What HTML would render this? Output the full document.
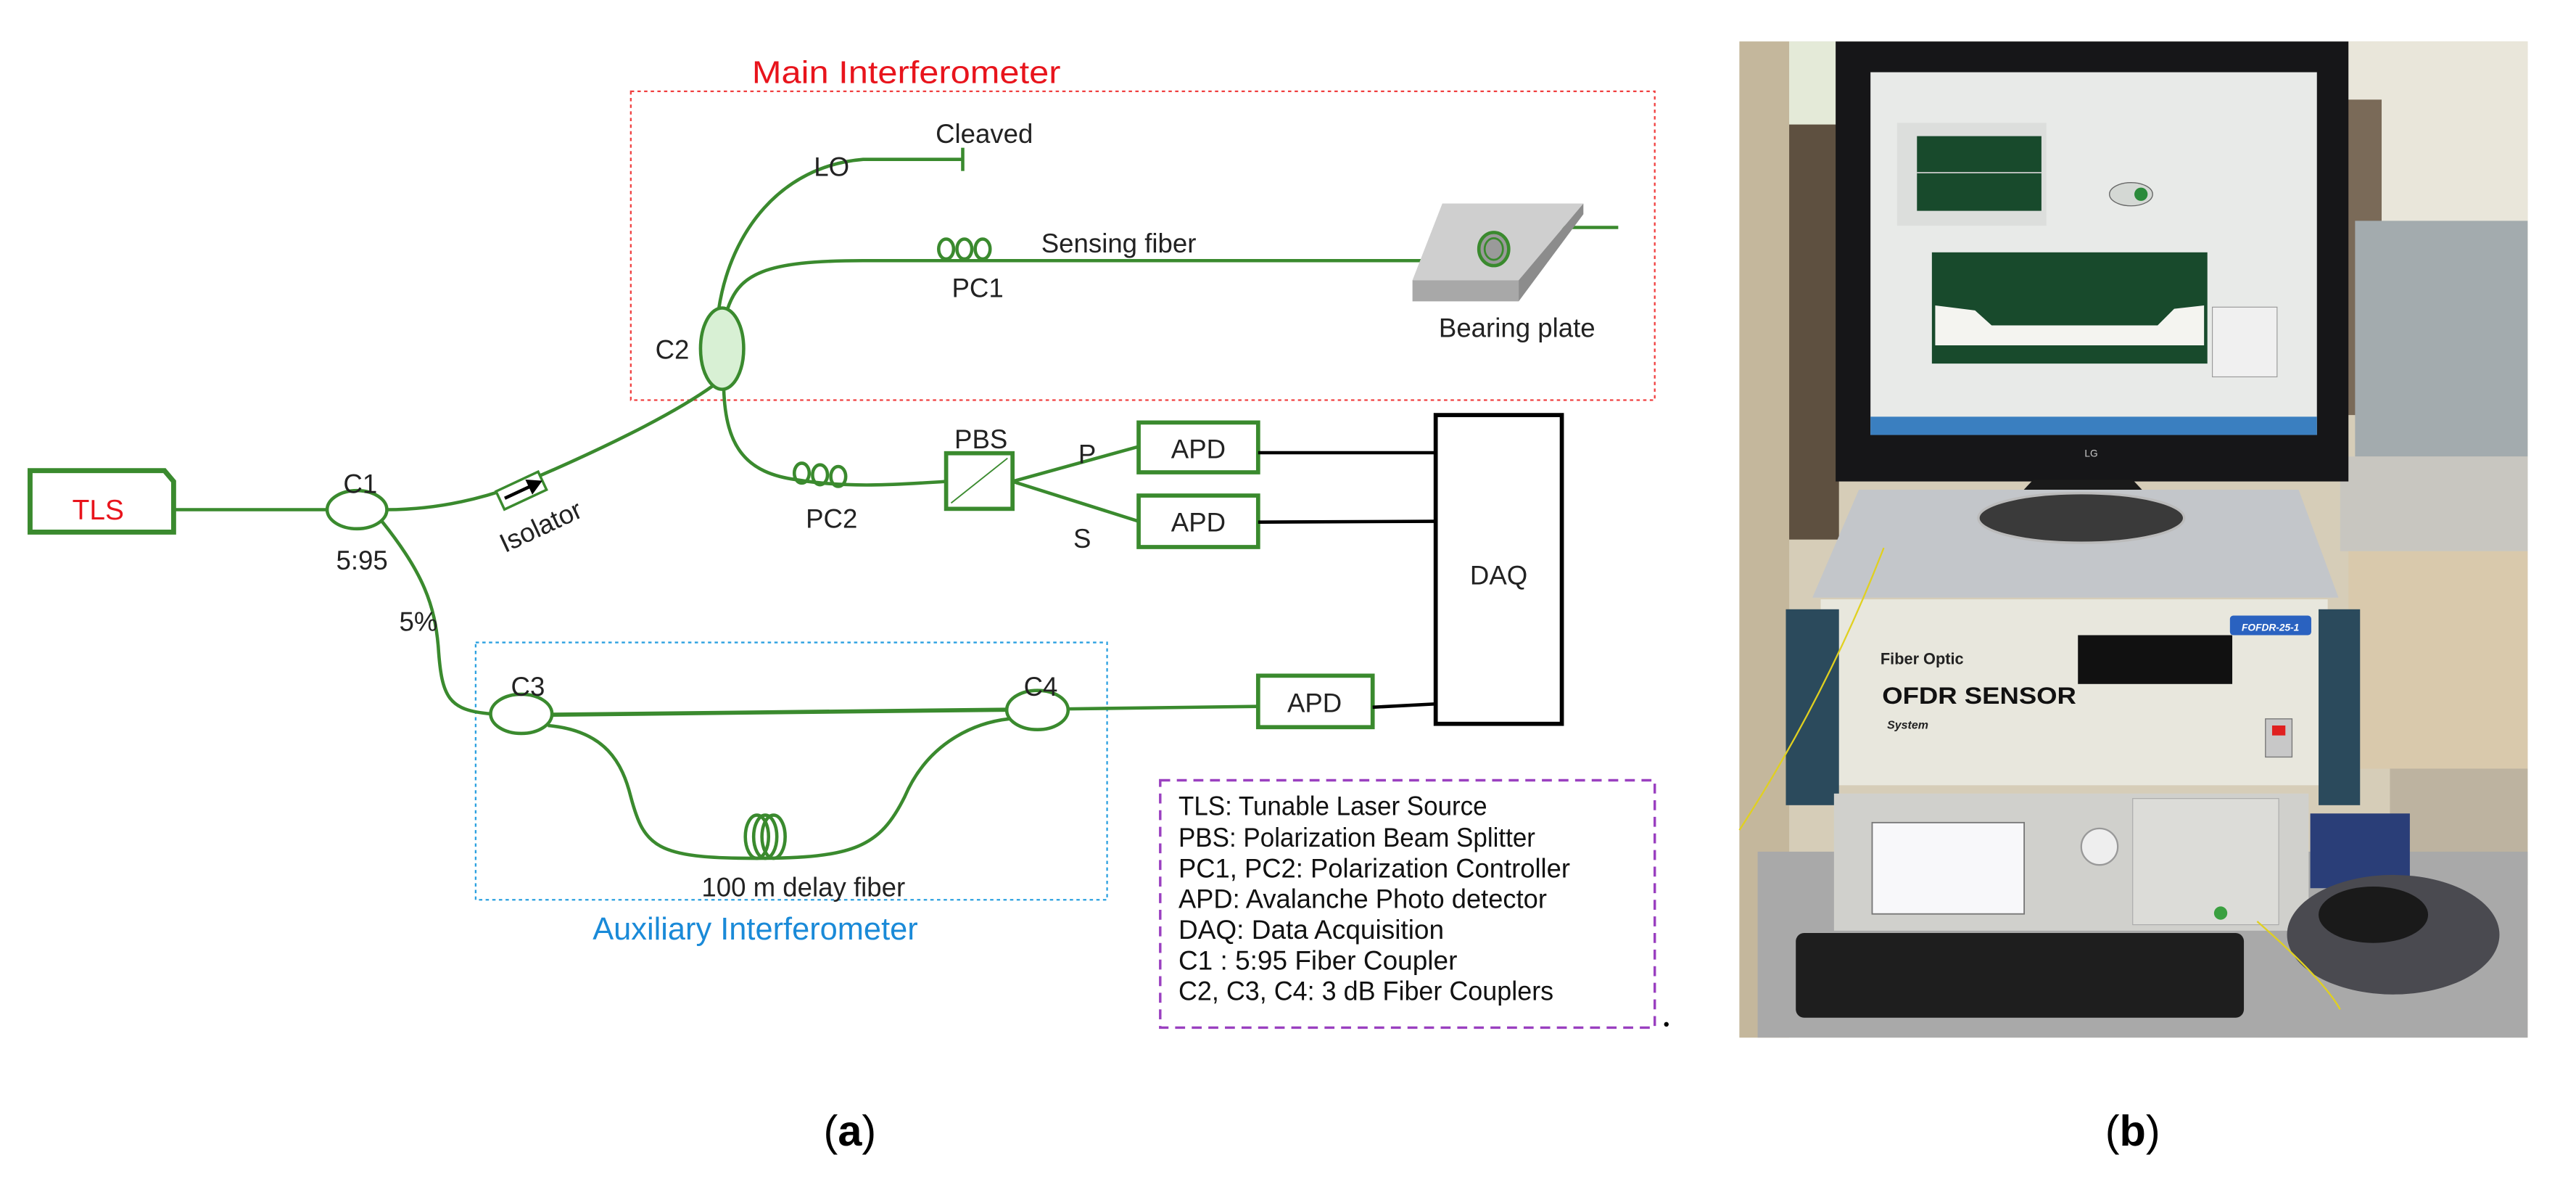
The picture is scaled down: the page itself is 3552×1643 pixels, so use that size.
<!DOCTYPE html>
<html><head><meta charset="utf-8"><style>
html,body{margin:0;padding:0;background:#fff;}
svg{display:block;}
text{font-family:"Liberation Sans",Arial,sans-serif;}
</style></head><body>
<svg width="3552" height="1643" viewBox="0 0 1552 718" xmlns="http://www.w3.org/2000/svg">
<rect width="1552" height="718" fill="#fff"/>
<!-- Main interferometer box -->
<rect x="380" y="55" width="617" height="186" fill="none" stroke="#f04040" stroke-width="1" stroke-dasharray="2,2"/>
<text x="453" y="50" font-size="19" fill="#e8141c" textLength="186" lengthAdjust="spacingAndGlyphs">Main  Interferometer</text>
<!-- Aux box -->
<rect x="286.5" y="387" width="380.5" height="155" fill="none" stroke="#2aa0e0" stroke-width="1" stroke-dasharray="2,2"/>
<text x="357" y="566" font-size="19" fill="#1a8ad8" textLength="196" lengthAdjust="spacingAndGlyphs">Auxiliary Interferometer</text>
<!-- Legend box -->
<rect x="699" y="470" width="298" height="149" fill="none" stroke="#9a40c0" stroke-width="1.5" stroke-dasharray="6,4"/>
<g font-size="16" fill="#111" lengthAdjust="spacingAndGlyphs">
<text x="710" y="491" textLength="186" lengthAdjust="spacingAndGlyphs">TLS: Tunable Laser Source</text>
<text x="710" y="510" textLength="215" lengthAdjust="spacingAndGlyphs">PBS: Polarization Beam Splitter</text>
<text x="710" y="528.5" textLength="236" lengthAdjust="spacingAndGlyphs">PC1, PC2:  Polarization Controller</text>
<text x="710" y="547" textLength="222" lengthAdjust="spacingAndGlyphs">APD: Avalanche Photo detector</text>
<text x="710" y="565.5" textLength="160" lengthAdjust="spacingAndGlyphs">DAQ: Data Acquisition</text>
<text x="710" y="584" textLength="168" lengthAdjust="spacingAndGlyphs">C1 :  5:95 Fiber Coupler</text>
<text x="710" y="602.5" textLength="226" lengthAdjust="spacingAndGlyphs">C2, C3, C4: 3 dB Fiber Couplers</text>
</g>
<circle cx="1004" cy="617" r="1.4" fill="#000"/>

<g fill="none" stroke="#3a8a2e" stroke-width="2">
<!-- TLS -->
<path d="M18 283.5 H99 L104.5 290 V320.5 H18 Z" stroke-width="3"/>
<line x1="104.5" y1="307" x2="197" y2="307"/>
<ellipse cx="215" cy="307" rx="18" ry="11.5"/>
<!-- C1 to C2 via isolator -->
<path d="M233 307 C260 307 285 302 310 293 C360 272 405 250 430 232"/>
<!-- 5% branch -->
<path d="M230 314 C255 345 262 365 264 390 C266 420 270 428 296 430"/>
<!-- C2 -->
<ellipse cx="435" cy="210" rx="13" ry="24.5" fill="#d8f0d4"/>
<path d="M433 186 C440 140 470 100 520 96 H580"/>
<line x1="580" y1="89" x2="580" y2="103"/>
<path d="M438 187 C445 165 460 157 520 157 H888"/>
<path d="M905 137 H975"/>
<ellipse cx="570" cy="150" rx="4.5" ry="6"/><ellipse cx="581" cy="150" rx="4.5" ry="6"/><ellipse cx="592" cy="150" rx="4.5" ry="6"/>
<path d="M436 234 C437 270 450 285 480 289 C510 294 540 292 570 290"/>
<ellipse cx="483" cy="285" rx="4.5" ry="6"/><ellipse cx="494" cy="286" rx="4.5" ry="6"/><ellipse cx="505" cy="287" rx="4.5" ry="6"/>
<rect x="570" y="273" width="40" height="33.5" stroke-width="2.5"/>
<line x1="573" y1="303" x2="607" y2="276" stroke-width="0.8"/>
<path d="M610 290 L686 269"/>
<path d="M610 290 L686 314"/>
<rect x="686" y="254.5" width="72" height="30" stroke-width="2.5"/>
<rect x="686" y="298.5" width="72" height="31" stroke-width="2.5"/>
<rect x="758" y="407" width="69" height="31" stroke-width="2.5"/>
<!-- C3 C4 -->
<ellipse cx="314" cy="430" rx="18.5" ry="11.8"/>
<ellipse cx="625" cy="427.7" rx="18.5" ry="11.8"/>
<line x1="332.5" y1="430.5" x2="606.5" y2="427.5" stroke-width="2.5"/>
<line x1="643.5" y1="427" x2="758" y2="425.5"/>
<path d="M330 437 C365 440 375 460 380 480 C388 510 395 517 455 517 C515 517 530 510 545 480 C560 445 590 435 608 433"/>
<ellipse cx="456" cy="504" rx="7" ry="13"/>
<ellipse cx="461" cy="504" rx="7" ry="13"/>
<ellipse cx="466" cy="504" rx="7" ry="13"/>
</g>
<!-- isolator -->
<g transform="translate(314,295.5) rotate(-25)">
<rect x="-14" y="-6" width="28" height="12" fill="#fff" stroke="#3a8a2e" stroke-width="1.5"/>
<line x1="-11" y1="0" x2="8" y2="0" stroke="#000" stroke-width="2"/>
<polygon points="5,-5 14,0 5,5" fill="#000"/>
</g>
<!-- bearing plate -->
<polygon points="869,122.6 954,122.6 915,168.8 851,168.8" fill="#cfcfcf"/>
<polygon points="851,168.8 915,168.8 915,181.5 851,181.5" fill="#a8a8a8"/>
<polygon points="915,168.8 954,122.6 954,129 915,181.5" fill="#8c8c8c"/>
<ellipse cx="900" cy="150" rx="9" ry="10" fill="#9a9a9a" stroke="#3a8a2e" stroke-width="2"/>
<ellipse cx="900" cy="150" rx="5.5" ry="6.5" fill="none" stroke="#3a8a2e" stroke-width="1.2"/>
<!-- DAQ -->
<rect x="865" y="250" width="76" height="186" fill="none" stroke="#000" stroke-width="2.5"/>
<g stroke="#000" stroke-width="2">
<line x1="758" y1="272.7" x2="865" y2="272.7"/>
<line x1="758" y1="314.5" x2="865" y2="314"/>
<line x1="827" y1="426" x2="865" y2="424"/>
</g>
<!-- labels -->
<g font-size="16" fill="#222" text-anchor="middle">
<text x="59" y="313" fill="#e8141c" font-size="17">TLS</text>
<text x="217" y="297">C1</text>
<text x="218" y="343">5:95</text>
<text x="252" y="380">5%</text>
<text x="405" y="216">C2</text>
<text x="501" y="106">LO</text>
<text x="593" y="86">Cleaved</text>
<text x="674" y="152">Sensing fiber</text>
<text x="589" y="179">PC1</text>
<text x="914" y="203">Bearing plate</text>
<text x="501" y="318">PC2</text>
<text x="591" y="270">PBS</text>
<text x="655" y="279">P</text>
<text x="652" y="330">S</text>
<text x="722" y="276">APD</text>
<text x="722" y="320">APD</text>
<text x="792" y="429">APD</text>
<text x="903" y="352">DAQ</text>
<text x="318" y="419">C3</text>
<text x="627" y="419">C4</text>
<text x="484" y="540">100 m delay fiber</text>
<text x="328" y="322" transform="rotate(-25 328 322)">Isolator</text>
</g>
<text x="512" y="690" font-size="26" font-family="Liberation Serif,serif" text-anchor="middle">(<tspan font-weight="bold">a</tspan>)</text>
<text x="1285" y="690" font-size="26" font-family="Liberation Serif,serif" text-anchor="middle">(<tspan font-weight="bold">b</tspan>)</text>

<!-- Photo -->
<g>
<rect x="1048" y="25" width="475" height="600" fill="#d6cdb8"/>
<rect x="1048" y="25" width="30" height="600" fill="#c4b79c"/>
<rect x="1078" y="25" width="30" height="50" fill="#e4ead8"/>
<rect x="1078" y="75" width="30" height="250" fill="#5e5040"/>
<rect x="1375" y="25" width="148" height="110" fill="#e9e6da"/>
<rect x="1395" y="60" width="40" height="190" fill="#7a6a58"/>
<rect x="1419" y="133" width="104" height="142" fill="#a3abae"/>
<rect x="1410" y="275" width="113" height="57" fill="#c8c6c0"/>
<rect x="1415" y="332" width="108" height="131" fill="#d9c9ac"/>
<rect x="1440" y="463" width="83" height="70" fill="#bdb3a0"/>
<rect x="1059" y="513" width="464" height="112" fill="#a9a9a9"/>
<!-- monitor -->
<rect x="1106" y="25" width="309" height="265" fill="#161618"/>
<rect x="1127" y="43.5" width="269" height="218.5" fill="#e8eae8"/>
<rect x="1143" y="74" width="90" height="62" fill="#dcdedc"/>
<rect x="1155" y="82" width="75" height="45" fill="#184a2c"/>
<line x1="1155" y1="104" x2="1230" y2="104" stroke="#ccc" stroke-width="0.8"/>
<ellipse cx="1284" cy="117" rx="13" ry="7" fill="#d4d8d4" stroke="#666" stroke-width="0.6"/>
<circle cx="1290" cy="117" r="4" fill="#2a8a3a"/>
<rect x="1164" y="152" width="166" height="67" fill="#184a2c"/>
<path d="M1166 184 L1190 187 L1200 196 L1300 196 L1310 186 L1328 184 L1328 208 L1166 208 Z" fill="#f4f4f0"/>
<rect x="1333" y="185" width="39" height="42" fill="#f0f0f0" stroke="#999" stroke-width="0.5"/>
<rect x="1127" y="251" width="269" height="11" fill="#3a7fc0"/>
<text x="1260" y="275" font-size="6" fill="#ccc" text-anchor="middle">LG</text>
<polygon points="1225,289 1285,289 1300,305 1210,305" fill="#1a1a1a"/>
<!-- OFDR box -->
<polygon points="1120,295 1385,295 1409,360 1092,360" fill="#c3c6ca"/>
<ellipse cx="1254" cy="312" rx="62" ry="15" fill="#3a3a3a" stroke="#bbb" stroke-width="1.5"/>
<rect x="1097" y="361" width="305.5" height="112" fill="#e8e7dd"/>
<rect x="1076" y="367" width="32" height="118" fill="#2b4a5c"/>
<rect x="1397" y="367" width="25" height="118" fill="#2b4a5c"/>
<rect x="1252" y="382.6" width="93" height="29.4" fill="#111"/>
<rect x="1343.6" y="370.8" width="49" height="11.8" rx="2" fill="#2a62c0"/>
<text x="1368" y="380" font-size="6" font-style="italic" font-weight="bold" fill="#fff" text-anchor="middle">FOFDR-25-1</text>
<rect x="1365" y="433" width="16" height="23" fill="#c8c8c8" stroke="#777" stroke-width="0.6"/>
<rect x="1369" y="437" width="8" height="6" fill="#e02020"/>
<text x="1133" y="400" font-size="9.5" font-weight="bold" fill="#222">Fiber Optic</text>
<text x="1134" y="424" font-size="14" font-weight="bold" fill="#111" textLength="117" lengthAdjust="spacingAndGlyphs">OFDR SENSOR</text>
<text x="1137" y="439" font-size="7" font-style="italic" font-weight="bold" fill="#222">System</text>
<!-- instrument -->
<rect x="1105" y="478" width="286" height="82.6" fill="#d0d0cc"/>
<rect x="1128" y="495.5" width="91.6" height="55" fill="#f8f8fa" stroke="#777" stroke-width="0.8"/>
<rect x="1285" y="481" width="88" height="76" fill="#dcdcd8" stroke="#aaa" stroke-width="0.5"/>
<circle cx="1265" cy="510" r="11" fill="#eee" stroke="#999"/>
<circle cx="1338" cy="550" r="4" fill="#3aa040"/>
<rect x="1392" y="490" width="60" height="45" fill="#2a3e78"/>
<!-- keyboard mouse cd -->
<ellipse cx="1442" cy="563" rx="64" ry="36" fill="#4a4a50"/>
<rect x="1082" y="562" width="270" height="51" rx="5" fill="#1e1e1e"/>
<ellipse cx="1430" cy="551" rx="33" ry="17" fill="#1a1a1a"/>
<path d="M1048 500 Q1100 420 1135 330" stroke="#e0d020" stroke-width="1" fill="none"/>
<path d="M1360 555 Q1400 590 1410 608" stroke="#e0d020" stroke-width="1" fill="none"/>
</g>
</svg>
</body></html>
